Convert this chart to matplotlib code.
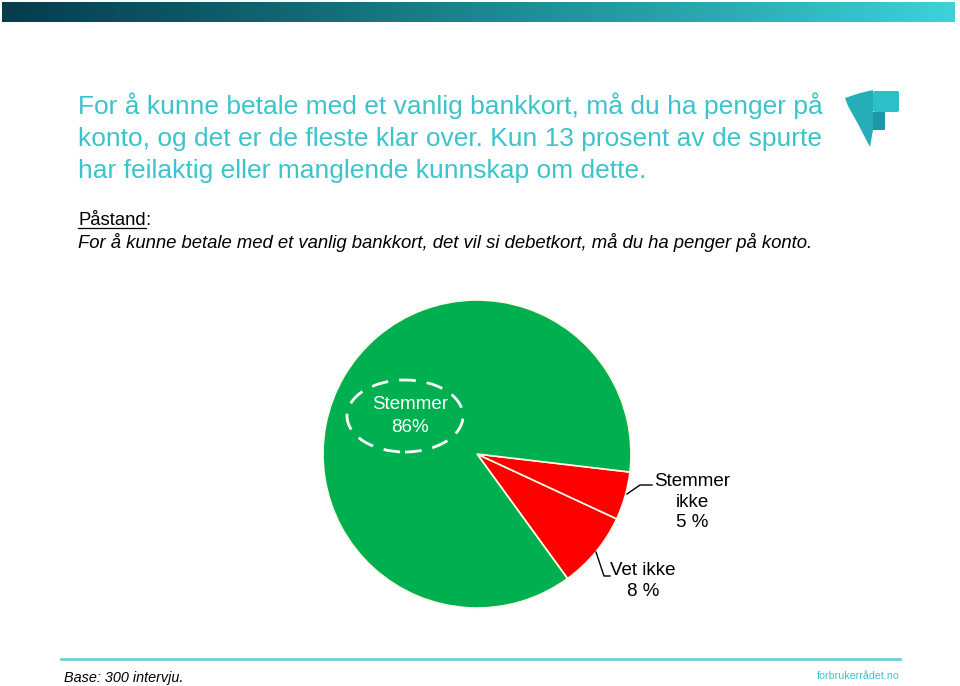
import numpy as np
import matplotlib
matplotlib.use('Agg')
import matplotlib.pyplot as plt
from matplotlib.patches import Ellipse, Polygon, Rectangle, FancyBboxPatch
from matplotlib.colors import LinearSegmentedColormap

plt.rcParams['font.family'] = ['Liberation Sans', 'DejaVu Sans']

W, H = 960, 686

# data
categories = ['Vet ikke', 'Stemmer ikke', 'Stemmer']
shares = [8, 5, 86]
slice_colors = ['#FF0000', '#FF0000', '#00B050']
label_texts = ['Vet ikke\n8 %', 'Stemmer\nikke\n5 %', 'Stemmer\n86%']

title_lines = ['For å kunne betale med et vanlig bankkort, må du ha penger på',
               'konto, og det er de fleste klar over. Kun 13 prosent av de spurte',
               'har feilaktig eller manglende kunnskap om dette.']
claim = 'For å kunne betale med et vanlig bankkort, det vil si debetkort, må du ha penger på konto.'
base_note = 'Base: 300 intervju.'
site = 'forbrukerrådet.no'

teal = '#3CC4CC'


def Y(py):
    # pixel row (from top) -> data y
    return H - py


fig = plt.figure(figsize=(W / 100, H / 100), dpi=100)
ax = fig.add_axes([0, 0, 1, 1])

# pie
wedges, _ = ax.pie(shares, colors=slice_colors, startangle=-54, counterclock=True,
                   radius=154, center=(477, Y(454)),
                   wedgeprops=dict(edgecolor='#FFFDE8', linewidth=1.2))
ax.axis('off')

# top gradient bar
grad = LinearSegmentedColormap.from_list('bar', ['#063C4C', '#0F5F6C', '#1B8790', '#2AAAB2', '#3CD2DA'])
ax.imshow(np.linspace(0, 1, 256)[None, :], cmap=grad, aspect='auto',
          extent=(2, 955, Y(22), Y(2)), zorder=1)
ax.set_xlim(0, W)
ax.set_ylim(0, H)
ax.set_aspect('auto')

# logo
ax.add_patch(Polygon([(845, Y(98)), (860, Y(93)), (873, Y(90)), (873, Y(130)), (870, Y(147)),
                      (858, Y(124)), (848, Y(106))],
                     closed=True, facecolor='#25ADB8', edgecolor='none'))
ax.add_patch(FancyBboxPatch((873, Y(112)), 26, 21, boxstyle='round,pad=0,rounding_size=2',
                            facecolor='#2DBFC8', edgecolor='none'))
ax.add_patch(Rectangle((873, Y(130)), 12, 18, facecolor='#1E98A3', edgecolor='none'))

# title
for i, line in enumerate(title_lines):
    ax.text(78, Y(114 + 32 * i), line, fontsize=19, color=teal, va='baseline', ha='left')

# claim
t = ax.text(78, Y(225), 'Påstand', fontsize=13.3, color='black', va='baseline', ha='left')
fig.canvas.draw()
bb = t.get_window_extent(renderer=fig.canvas.get_renderer())
ax.text(bb.x1, Y(225), ':', fontsize=13.3, color='black', va='baseline', ha='left')
ax.plot([bb.x0, bb.x1], [Y(228), Y(228)], color='black', lw=0.9)
ax.text(78, Y(248), claim, fontsize=13.3, style='italic', color='black', va='baseline', ha='left')

# pie labels
ax.add_patch(Ellipse((405, Y(416)), 116, 72, fill=False, edgecolor='white',
                     lw=2, linestyle=(0, (6, 4)), zorder=5))
ax.text(410, Y(416), label_texts[2], fontsize=13.5, color='white', ha='center', va='center',
        linespacing=1.45, zorder=6)

ax.plot([627, 640, 652], [Y(494), Y(485), Y(485)], color='black', lw=1)
ax.text(692, Y(473), label_texts[1], fontsize=13.5, color='black', ha='center', va='top',
        linespacing=1.28)

ax.plot([596, 604, 610], [Y(552), Y(576), Y(576)], color='black', lw=1)
ax.text(643, Y(562), label_texts[0], fontsize=13.5, color='black', ha='center', va='top',
        linespacing=1.3)

# footer
ax.plot([61, 900], [Y(659), Y(659)], color='#6CCFD5', lw=2)
ax.text(64, Y(682), base_note, fontsize=10.4, style='italic', color='black', va='baseline', ha='left')
ax.text(900, Y(679), site, fontsize=7.7, color=teal, va='baseline', ha='right')

fig.savefig('out.png', dpi=100)
